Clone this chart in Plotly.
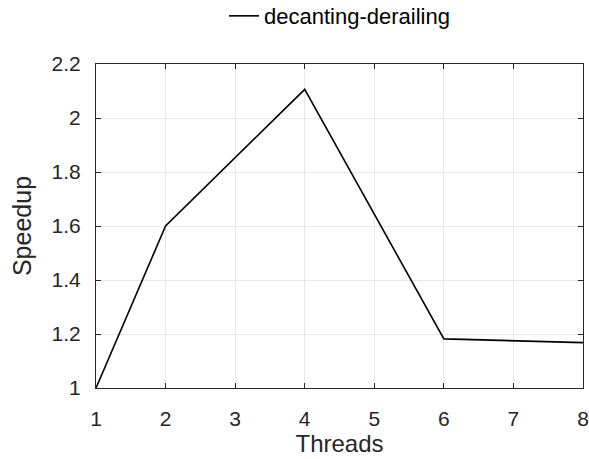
import plotly.graph_objects as go

threads = [1, 2, 4, 6, 8]
speedup = [1.0, 1.6, 2.106, 1.182, 1.168]
series_name = "decanting-derailing"
x_ticks = [1, 2, 3, 4, 5, 6, 7, 8]
y_ticks = [1, 1.2, 1.4, 1.6, 1.8, 2, 2.2]
y_tick_text = ["1", "1.2", "1.4", "1.6", "1.8", "2", "2.2"]

font_family = "Liberation Sans, Arial, Helvetica, sans-serif"
axis_color = "#262626"

fig = go.Figure()
fig.add_trace(go.Scatter(
    x=threads, y=speedup, mode="lines", name=series_name,
    line=dict(color="black", width=1.6),
))

common = dict(
    showline=True, linecolor=axis_color, linewidth=1, mirror="ticks",
    ticks="inside", ticklen=5, tickcolor=axis_color,
    showgrid=True, gridcolor="#e8e8e8", gridwidth=1,
    zeroline=False, ticklabeloverflow="allow",
    tickfont=dict(size=21, color=axis_color, family=font_family),
)

fig.update_xaxes(
    range=[1, 8], tickvals=x_ticks, ticklabelstandoff=12,
    title=dict(text="Threads", font=dict(size=24, color=axis_color, family=font_family), standoff=2),
    **common,
)
fig.update_yaxes(
    range=[1, 2.2], tickvals=y_ticks, ticktext=y_tick_text, ticklabelstandoff=10,
    title=dict(text="Speedup", font=dict(size=25, color=axis_color, family=font_family), standoff=12),
    **common,
)

fig.update_layout(
    width=589, height=459,
    margin=dict(l=96, r=6, t=64, b=71, autoexpand=False),
    plot_bgcolor="white", paper_bgcolor="white",
    showlegend=True,
    legend=dict(
        orientation="h", x=0.5, xanchor="center", y=1.148, yanchor="middle",
        yref="paper", font=dict(size=22, color="black", family=font_family),
        bgcolor="rgba(0,0,0,0)",
    ),
)

fig.write_html(
    "out.html",
    config={"displayModeBar": False},
    post_script="document.body.style.margin='0px'; document.body.style.overflow='hidden';",
)
